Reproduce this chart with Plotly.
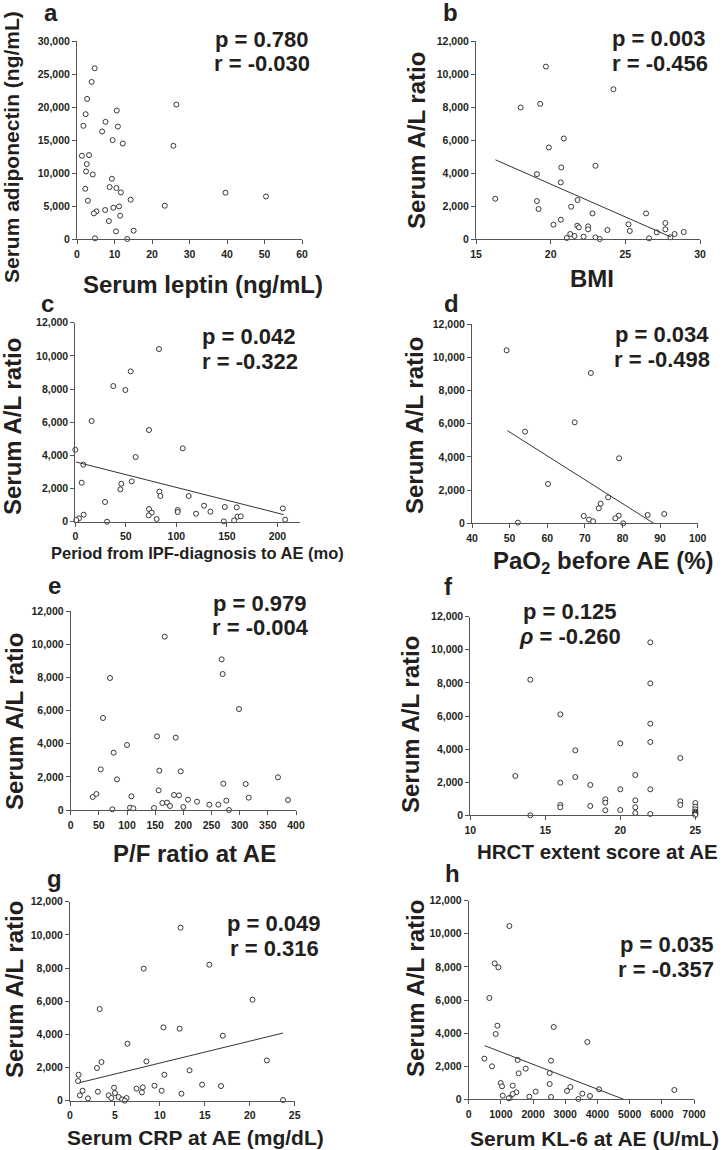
import plotly.graph_objects as go

# ---------------- data ----------------
a_x = [4.7, 3.9, 2.7, 2.3, 1.7, 10.6, 7.6, 10.9, 6.7, 9.5, 12.2, 26.5, 25.7, 1.3, 3.2, 2.6, 2.4, 4.2, 9.3, 8.7,
       10.5, 11.7, 2.2, 2.9, 14.3, 23.4, 39.6, 50.4, 7.5, 9.7, 11.2, 5.2, 4.5, 11.5, 8.5, 10.4, 15.1, 4.8, 13.4]
a_y = [25870, 23800, 21230, 18910, 17150, 19470, 17750, 17040, 16290, 14980, 14470, 20370, 14120, 12610, 12710,
       11350, 10240, 9780, 9130, 7870, 7720, 7060, 7610, 5800, 5950, 5040, 7010, 6450, 4390, 4740, 4940, 4190,
       3880, 3530, 2720, 1160, 1260, 100, 0]

b_x = [19.68, 17.99, 19.30, 24.20, 20.88, 19.88, 20.71, 23.00, 20.68, 19.08, 16.29, 19.08, 19.19, 21.80, 21.37,
       20.68, 22.80, 26.39, 20.19, 21.78, 21.89, 22.51, 22.51, 23.80, 25.21, 25.30, 27.68, 27.68, 27.10, 28.30,
       28.91, 21.31, 21.60, 21.08, 22.20, 23.00, 23.29, 26.59, 28.02]
b_y = [10448, 7967, 8189, 9076, 6091, 5547, 4336, 4437, 3429, 3933, 2440, 2299, 1815, 2360, 1956, 1170, 1553,
       1553, 867, 807, 706, 766, 585, 545, 887, 484, 968, 585, 403, 303, 424, 303, 182, 61, 141, 101, 0, 40, 101]
b_fit_x = [16.3, 28.06]
b_fit_y = [4800, 120]

c_x = [82.8, 54.8, 37.6, 49.5, 16.2, 72.9, 0.0, 106.3, 59.7, 7.9, 6.3, 45.5, 55.8, 44.6, 83.2, 84.2, 112.2, 29.4,
       127.4, 147.9, 159.7, 205.3, 72.9, 101.3, 101.3, 133.7, 75.6, 72.6, 119.5, 8.3, 160.4, 163.7, 3.6, 1.0, 80.5,
       157.1, 31.4, 146.9, 207.6]
c_y = [10412, 9065, 8181, 7940, 6070, 5528, 4342, 4422, 3899, 3437, 2352, 2291, 2432, 1950, 1809, 1548, 1548, 1186,
       965, 884, 864, 804, 764, 704, 583, 603, 543, 382, 482, 422, 302, 322, 201, 100, 161, 80, 0, 20, 121]
c_fit_x = [0.7, 206.0]
c_fit_y = [3600, 430]

d_x = [49.2, 71.6, 67.3, 54.1, 79.1, 60.2, 76.2, 74.2, 73.7, 69.7, 79.0, 78.1, 86.7, 91.1, 71.1, 72.2, 52.2, 80.2]
d_y = [10432, 9065, 6090, 5528, 3920, 2372, 1568, 1186, 905, 442, 462, 302, 503, 563, 221, 121, 40, 0]
d_fit_x = [49.4, 88.3]
d_fit_y = [5588, 0]

e_x = [166.9, 268.0, 269.8, 69.8, 298.8, 57.4, 153.3, 186.4, 100.0, 76.3, 53.3, 157.4, 195.3, 82.2, 368.0, 271.0,
       310.7, 156.2, 107.7, 183.4, 192.3, 39.1, 45.6, 316.0, 208.3, 224.3, 276.3, 385.8, 246.2, 262.1, 162.7, 171.0,
       176.3, 200.0, 105.3, 111.2, 147.9, 74.0, 281.1]
e_y = [10452, 9085, 8201, 7960, 6090, 5548, 4442, 4362, 3920, 3457, 2452, 2372, 2332, 1849, 1970, 1588, 1568, 1186,
       824, 905, 884, 784, 965, 744, 623, 503, 563, 603, 322, 322, 422, 442, 241, 181, 141, 100, 121, 40, 0]

f_x = [22, 14, 22, 16, 22, 22, 20, 17, 24, 13, 17, 21, 16, 18, 20, 22, 16, 16, 18, 19, 19, 19, 20, 21, 21, 21, 22,
       24, 24, 25, 25, 25, 25, 25, 25, 25, 14, 25]
f_y = [10449, 8194, 7973, 6100, 5537, 4429, 4349, 3926, 3463, 2376, 2315, 2436, 1973, 1832, 1570, 1570, 624, 483,
       564, 966, 765, 302, 322, 906, 483, 141, 81, 846, 624, 745, 523, 362, 221, 161, 100, 60, 0, 20]

g_x = [12.3, 15.5, 8.2, 20.3, 3.3, 10.4, 12.2, 17.0, 6.4, 3.5, 3.0, 8.5, 21.9, 13.3, 0.96, 10.5, 0.9, 14.7, 16.8,
       9.4, 8.1, 4.9, 7.4, 1.4, 3.1, 10.2, 8.0, 5.0, 1.1, 4.3, 12.4, 5.4, 4.6, 5.8, 2.0, 6.3, 6.1, 23.7]
g_y = [10432, 8201, 7960, 6090, 5528, 4422, 4342, 3920, 3437, 2332, 1970, 2372, 2432, 1829, 1568, 1568, 1186, 965,
       884, 905, 804, 784, 724, 603, 543, 603, 503, 462, 322, 322, 422, 221, 161, 80, 141, 161, 0, 40]
g_fit_x = [1.04, 23.7]
g_fit_y = [1085, 4080]

h_x = [1263, 808, 922, 642, 891, 839, 2641, 3686, 487, 1522, 2558, 725, 1771, 1553, 2516, 994, 1036, 2516, 3158,
       4049, 6389, 1367, 1481, 2081, 3055, 1367, 1056, 3531, 3769, 1885, 2558, 1274, 1243, 3407]
h_y = [10469, 8214, 7973, 6120, 4449, 3946, 4369, 3463, 2456, 2376, 2335, 1993, 1852, 1570, 1591, 987, 785, 926,
       745, 604, 564, 825, 423, 463, 503, 322, 221, 342, 201, 161, 141, 81, 60, 20]
h_fit_x = [497, 4815]
h_fit_y = [3241, 0]

# tick values
a_xticks = [0, 10, 20, 30, 40, 50, 60]
a_yticks = [0, 5000, 10000, 15000, 20000, 25000, 30000]
al_yticks = [0, 2000, 4000, 6000, 8000, 10000, 12000]
b_xticks = [15, 20, 25, 30]
c_xticks = [0, 50, 100, 150, 200]
d_xticks = [40, 50, 60, 70, 80, 90, 100]
e_xticks = [0, 50, 100, 150, 200, 250, 300, 350, 400]
f_xticks = [10, 15, 20, 25]
g_xticks = [0, 5, 10, 15, 20, 25]
h_xticks = [0, 1000, 2000, 3000, 4000, 5000, 6000, 7000]

# ---------------- layout helpers ----------------
W, H = 724, 1150
ML, MR, MT, MB = 40, 20, 30, 20
FONT = "Liberation Sans, Arial, Helvetica, sans-serif"
TXT = "#231f20"
AX = "#555555"


def px(x):
    return (x - ML) / (W - ML - MR)


def py(y):
    return 1 - (y - MT) / (H - MT - MB)


fig = go.Figure()
annotations = []

panels = [
    dict(x=a_x, y=a_y, fit=None, box=(77, 302, 41, 239), xr=[0, 60], yr=[0, 30000], xt=a_xticks, yt=a_yticks),
    dict(x=b_x, y=b_y, fit=(b_fit_x, b_fit_y), box=(476, 700, 41, 239), xr=[15, 30], yr=[0, 12000], xt=b_xticks, yt=al_yticks),
    dict(x=c_x, y=c_y, fit=(c_fit_x, c_fit_y), box=(75.3, 299.7, 322.7, 521.7), xr=[0, 222], yr=[0, 12000], xt=c_xticks, yt=al_yticks),
    dict(x=d_x, y=d_y, fit=(d_fit_x, d_fit_y), box=(472, 697.7, 324.3, 523.3), xr=[40, 100], yr=[0, 12000], xt=d_xticks, yt=al_yticks),
    dict(x=e_x, y=e_y, fit=None, box=(70.7, 296, 611, 810), xr=[0, 400], yr=[0, 12000], xt=e_xticks, yt=al_yticks),
    dict(x=f_x, y=f_y, fit=None, box=(470.3, 695.3, 616.7, 815.3), xr=[10, 25], yr=[0, 12000], xt=f_xticks, yt=al_yticks),
    dict(x=g_x, y=g_y, fit=(g_fit_x, g_fit_y), box=(70, 294.7, 901.7, 1100.7), xr=[0, 25], yr=[0, 12000], xt=g_xticks, yt=al_yticks),
    dict(x=h_x, y=h_y, fit=(h_fit_x, h_fit_y), box=(468.7, 694, 900.7, 1099.3), xr=[0, 7000], yr=[0, 12000], xt=h_xticks, yt=al_yticks),
]

layout_axes = {}
for i, p in enumerate(panels, start=1):
    xa = "x" if i == 1 else f"x{i}"
    ya = "y" if i == 1 else f"y{i}"
    fig.add_trace(go.Scatter(
        x=p["x"], y=p["y"], mode="markers", xaxis=xa, yaxis=ya, showlegend=False, cliponaxis=False,
        marker=dict(symbol="circle", size=5, color="white", line=dict(color="#222222", width=0.9)),
        hoverinfo="skip"))
    if p["fit"] is not None:
        fig.add_trace(go.Scatter(
            x=p["fit"][0], y=p["fit"][1], mode="lines", xaxis=xa, yaxis=ya, showlegend=False,
            cliponaxis=False, line=dict(color="#333333", width=1), hoverinfo="skip"))
    x0, x1, y0, y1 = p["box"]
    common = dict(showline=True, linecolor=AX, linewidth=1, ticks="outside", ticklen=4, tickwidth=1,
                  tickcolor=AX, showgrid=False, zeroline=False, fixedrange=True, automargin=False,
                  tickfont=dict(family=FONT, size=10.5, color=TXT, weight=700))
    layout_axes["xaxis" if i == 1 else f"xaxis{i}"] = dict(
        common, domain=[px(x0), px(x1)], range=p["xr"], tickmode="array", tickvals=p["xt"],
        ticktext=[f"<b>{v}</b>" for v in p["xt"]], anchor=ya, ticklabelstandoff=1)
    layout_axes["yaxis" if i == 1 else f"yaxis{i}"] = dict(
        common, domain=[py(y1), py(y0)], range=p["yr"], tickmode="array", tickvals=p["yt"],
        ticktext=[f"<b>{v:,}</b>" for v in p["yt"]], anchor=xa)

fig.update_layout(**layout_axes)


def add_text(text, x, y, size, angle=0):
    annotations.append(dict(text="<b>" + text + "</b>", x=px(x), y=py(y), xref="paper", yref="paper",
                            showarrow=False, xanchor="center", yanchor="middle", textangle=angle,
                            font=dict(family=FONT, size=size, color=TXT, weight=700)))


# panel letters
for lab, x, y in [("a", 51, 12), ("b", 450, 12), ("c", 47, 303), ("d", 451, 303),
                  ("e", 54, 585), ("f", 448, 586), ("g", 54, 878), ("h", 452, 874)]:
    add_text(lab, x, y, 24)

# axis titles
add_text("Serum adiponectin (ng/mL)", 12, 147, 21, -90)
add_text("Serum leptin (ng/mL)", 203, 284, 24)
add_text("Serum A/L ratio", 416, 141, 24, -90)
add_text("BMI", 592, 279, 24)
add_text("Serum A/L ratio", 13, 427, 24, -90)
add_text("Period from IPF-diagnosis to AE (mo)", 197, 553, 16.5)
add_text("Serum A/L ratio", 414, 426, 24, -90)
add_text("PaO<sub>2</sub> before AE (%)", 603, 562, 24)
add_text("Serum A/L ratio", 14, 722, 24, -90)
add_text("P/F ratio at AE", 194, 853, 24)
add_text("Serum A/L ratio", 410, 725, 24, -90)
add_text("HRCT extent score at AE", 597, 851, 20.5)
add_text("Serum A/L ratio", 14, 990, 24, -90)
add_text("Serum CRP at AE (mg/dL)", 195, 1137, 21)
add_text("Serum A/L ratio", 415, 989, 24, -90)
add_text("Serum KL-6 at AE (U/mL)", 594, 1138, 21)

# statistics
stats = [
    ("p = 0.780", 262, 40), ("r = -0.030", 262, 64),
    ("p = 0.003", 659, 38), ("r = -0.456", 660, 63),
    ("p = 0.042", 249, 337), ("r = -0.322", 250, 361),
    ("p = 0.034", 662, 334), ("r = -0.498", 662, 359),
    ("p = 0.979", 260, 603), ("r = -0.004", 260, 628),
    ("p = 0.125", 570, 611), ("<i>ρ</i> = -0.260", 570, 637),
    ("p = 0.049", 274, 923), ("r = 0.316", 274, 948),
    ("p = 0.035", 667, 944), ("r = -0.357", 666, 969),
]
for t, x, y in stats:
    add_text(t, x, y, 22)

fig.update_layout(
    width=W, height=H, margin=dict(l=ML, r=MR, t=MT, b=MB, autoexpand=False),
    paper_bgcolor="white", plot_bgcolor="white",
    annotations=annotations, font=dict(family=FONT, color=TXT),
)

# remove the browser's default 8px body margin so the figure sits at the page origin
fig.write_html("out.html", config={"displayModeBar": False},
               post_script="document.body.style.margin='0px';document.body.style.overflow='hidden';")
